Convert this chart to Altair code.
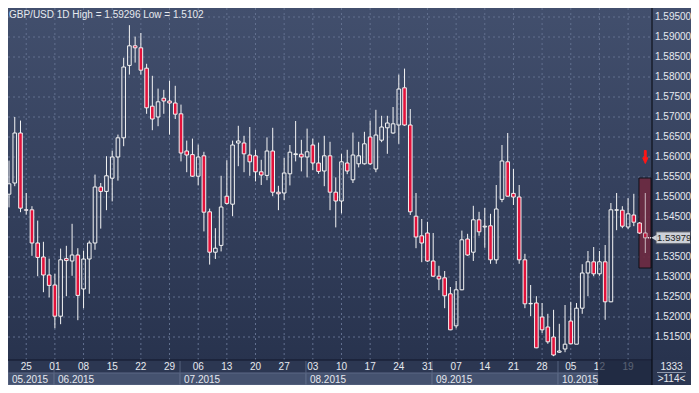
import altair as alt
import pandas as pd

# ---------------- data ----------------
opens = [1.5652, 1.5507, 1.5535, 1.5660, 1.5468, 1.5468, 1.5385, 1.5350, 1.5305, 1.5280,
         1.5202, 1.5346, 1.5340, 1.5355, 1.5270, 1.5345, 1.5385, 1.5525, 1.5514, 1.5547,
         1.5600, 1.5648, 1.5829, 1.5878, 1.5873, 1.5822, 1.5727, 1.5700, 1.5747, 1.5740,
         1.5735, 1.5708, 1.5615, 1.5606, 1.5552, 1.5603, 1.5463, 1.5362, 1.5379, 1.5502,
         1.5482, 1.5635, 1.5635, 1.5605, 1.5603, 1.5563, 1.5554, 1.5615, 1.5512, 1.5510,
         1.5558, 1.5606, 1.5607, 1.5600, 1.5630, 1.5585, 1.5565, 1.5603, 1.5512, 1.5490,
         1.5585, 1.5543, 1.5583, 1.5583, 1.5650, 1.5570, 1.5642, 1.5673, 1.5660, 1.5680,
         1.5773, 1.5680, 1.5452, 1.5403, 1.5410, 1.5340, 1.5302, 1.5298, 1.5258, 1.5178,
         1.5268, 1.5395, 1.5362, 1.5443, 1.5425, 1.5428, 1.5343, 1.5494, 1.5588, 1.5509,
         1.5500, 1.5343, 1.5233, 1.5235, 1.5200, 1.5175, 1.5150, 1.5112, 1.5120, 1.5190,
         1.5132, 1.5222, 1.5310, 1.5338, 1.5308, 1.5338, 1.5238, 1.5467, 1.5467, 1.5425,
         1.5455, 1.5435, 1.5410]
highs = [1.5656, 1.5591, 1.5700, 1.5691, 1.5510, 1.5477, 1.5441, 1.5388, 1.5346, 1.5308,
         1.5371, 1.5378, 1.5433, 1.5372, 1.5366, 1.5391, 1.5556, 1.5535, 1.5602, 1.5616,
         1.5656, 1.5848, 1.59296, 1.5901, 1.5910, 1.5833, 1.5803, 1.5771, 1.5768, 1.5791,
         1.5778, 1.5731, 1.5641, 1.5646, 1.5631, 1.5613, 1.5471, 1.5422, 1.5553, 1.5592,
         1.5641, 1.5678, 1.5653, 1.5675, 1.5618, 1.5593, 1.5649, 1.5673, 1.5528, 1.5598,
         1.5630, 1.5690, 1.5643, 1.5671, 1.5646, 1.5636, 1.5653, 1.5638, 1.5549, 1.5608,
         1.5618, 1.5661, 1.5638, 1.5663, 1.5691, 1.5718, 1.5703, 1.5703, 1.5725, 1.5806,
         1.5821, 1.5720, 1.5510, 1.5445, 1.5438, 1.5410, 1.5328, 1.5315, 1.5275, 1.5290,
         1.5416, 1.5408, 1.5478, 1.5463, 1.5473, 1.5458, 1.5530, 1.5630, 1.5660, 1.5570,
         1.5530, 1.5358, 1.5280, 1.5252, 1.5235, 1.5208, 1.5218, 1.5183, 1.5230, 1.5238,
         1.5235, 1.5332, 1.5365, 1.5375, 1.5365, 1.5380, 1.5485, 1.5510, 1.5477, 1.5497,
         1.5508, 1.5437, 1.5510]
lows = [1.5506, 1.5474, 1.5527, 1.5462, 1.5456, 1.5353, 1.5302, 1.5262, 1.5249, 1.5172,
        1.5182, 1.5252, 1.5303, 1.5192, 1.5222, 1.5258, 1.5368, 1.5421, 1.5467, 1.5489,
        1.5541, 1.5627, 1.5806, 1.5836, 1.5806, 1.5708, 1.5667, 1.5677, 1.5708, 1.5656,
        1.5695, 1.5589, 1.5562, 1.5550, 1.5529, 1.5414, 1.5331, 1.5345, 1.5364, 1.5481,
        1.5452, 1.5577, 1.5562, 1.5553, 1.5539, 1.5530, 1.5542, 1.5502, 1.5467, 1.5492,
        1.5529, 1.5589, 1.5564, 1.5549, 1.5567, 1.5558, 1.5527, 1.5467, 1.5424, 1.5459,
        1.5557, 1.5535, 1.5574, 1.5581, 1.5580, 1.5562, 1.5637, 1.5608, 1.5658, 1.5633,
        1.5678, 1.5455, 1.5372, 1.5337, 1.5338, 1.5300, 1.5267, 1.5222, 1.5167, 1.5172,
        1.5267, 1.5353, 1.5340, 1.5403, 1.5373, 1.5333, 1.5333, 1.5487, 1.5501, 1.5480,
        1.5333, 1.5222, 1.5202, 1.5122, 1.5160, 1.5133, 1.5102, 1.5110, 1.5112, 1.5132,
        1.5132, 1.5208, 1.5252, 1.5302, 1.5303, 1.5193, 1.5237, 1.5417, 1.5422, 1.5420,
        1.5427, 1.5408, 1.5360]
closes = [1.5510, 1.5533, 1.5660, 1.5472, 1.5467, 1.5385, 1.5349, 1.5305, 1.5279, 1.5202,
          1.5343, 1.5341, 1.5355, 1.5254, 1.5345, 1.5385, 1.5525, 1.5514, 1.5553, 1.5600,
          1.5648, 1.5825, 1.5878, 1.5873, 1.5817, 1.5723, 1.5695, 1.5738, 1.5740, 1.5735,
          1.5707, 1.5610, 1.5605, 1.5552, 1.5600, 1.5462, 1.5362, 1.5372, 1.5475, 1.5484,
          1.5630, 1.5640, 1.5608, 1.5588, 1.5563, 1.5555, 1.5615, 1.5512, 1.5508, 1.5560,
          1.5612, 1.5608, 1.5600, 1.5613, 1.5585, 1.5564, 1.5603, 1.5512, 1.5490, 1.5588,
          1.5565, 1.5605, 1.5603, 1.5633, 1.5583, 1.5655, 1.5675, 1.5685, 1.5683, 1.5770,
          1.5680, 1.5463, 1.5400, 1.5385, 1.5340, 1.5302, 1.5295, 1.5253, 1.5168, 1.5268,
          1.5393, 1.5355, 1.5443, 1.5413, 1.5427, 1.5343, 1.5470, 1.5590, 1.5502, 1.5500,
          1.5343, 1.5233, 1.5234, 1.5123, 1.5168, 1.5138, 1.5105, 1.5115, 1.5132, 1.5133,
          1.5222, 1.5310, 1.5338, 1.5308, 1.5338, 1.5238, 1.5468, 1.5468, 1.5427, 1.5458,
          1.5437, 1.5410, 1.53979]

monday_idx = [4, 9, 14, 19, 24, 29, 34, 39, 44, 49, 54, 59, 64, 69, 74, 79, 84, 89, 94, 99, 104, 109]
day_labels = ["25", "01", "08", "15", "22", "29", "06", "13", "20", "27", "03",
              "10", "17", "24", "31", "07", "14", "21", "28", "05", "12", "19"]
month_labels = ["05.2015", "06.2015", "07.2015", "08.2015", "09.2015", "10.2015"]
month_start = [0.82, 8.85, 30.83, 52.8, 74.8, 96.77]
month_end = [8.85, 30.83, 52.8, 74.8, 96.77, 103.75]
price_levels = [1.515, 1.520, 1.525, 1.530, 1.535, 1.540, 1.545, 1.550, 1.555,
                1.560, 1.565, 1.570, 1.575, 1.580, 1.585, 1.590, 1.595]
axis_levels = [v for v in price_levels if abs(v - 1.540) > 1e-9]
last_price = 1.53979
title_text = "GBP/USD 1D High = 1.59296 Low = 1.5102"
bar_count = "1333"
bar_visible = ">114<"
future_start = 103.75
highlight = {"i0": 110.9, "i1": 113.0, "p0": 1.53225, "p1": 1.55475}
signal = {"i": 112, "p": 1.5600}

# ---------------- layout ----------------
W, H = 644, 352
PR, PB = 39, 25
PX_PER_BAR = 5.732
FONT = "Liberation Sans, Arial, sans-serif"
TXT = "#e6e9ef"

x_lo = 0.82
xs = alt.Scale(domain=[x_lo, x_lo + W / PX_PER_BAR], nice=False, zero=False, padding=0)
ys = alt.Scale(domain=[1.50925, 1.59725], nice=False, zero=False, padding=0)

candles = pd.DataFrame({"i": list(range(len(opens))), "o": opens, "h": highs, "l": lows, "c": closes})
one = pd.DataFrame({"k": [0]})
grid_y = pd.DataFrame({"p": price_levels})
ylabs = pd.DataFrame({"p": axis_levels, "lab": [f"{v:.5f}" for v in axis_levels]})
days = pd.DataFrame({"i": monday_idx, "lab": day_labels})
months = pd.DataFrame({"s": month_start, "e": month_end, "lab": month_labels})

X = lambda f: alt.X(f, type="quantitative", scale=xs, axis=None)
Y = lambda f: alt.Y(f, type="quantitative", scale=ys, axis=None)

bg = alt.Chart(one).mark_rect(
    color=alt.Gradient(gradient="linear",
                       stops=[alt.GradientStop(color="#424f6d", offset=0),
                              alt.GradientStop(color="#28334e", offset=1)],
                       x1=0, x2=0, y1=0, y2=1)
).encode(x=alt.value(0), x2=alt.value(W + PR), y=alt.value(0), y2=alt.value(H))

strip = alt.Chart(one).mark_rect(color="#2c3752").encode(
    x=alt.value(0), x2=alt.value(W + PR), y=alt.value(H), y2=alt.value(H + PB))

hgrid = alt.Chart(grid_y).mark_rule(color="#62708f", strokeDash=[2, 3], strokeWidth=1).encode(
    y=Y("p"), x=alt.value(0), x2=alt.value(W))

ytext = alt.Chart(ylabs).mark_text(
    align="left", baseline="middle", font=FONT, fontSize=10, color=TXT
).encode(x=alt.value(W + 3), y=Y("p"), text="lab:N")

vgrid = alt.Chart(days).mark_rule(color="#62708f", strokeDash=[2, 3], strokeWidth=1).encode(
    x=X("i"), y=alt.value(0), y2=alt.value(H))

hl = alt.Chart(pd.DataFrame([highlight])).mark_rect(
    fill="#6e2a41", stroke="#0d0d12", strokeWidth=1, opacity=0.9
).encode(x=X("i0"), x2=alt.X2("i1"), y=Y("p0"), y2=alt.Y2("p1"))

base = alt.Chart(candles).transform_calculate(
    top="max(datum.o, datum.c)", bot="min(datum.o, datum.c)")

op = alt.condition("datum.i == %d" % (len(opens) - 1), alt.value(0.7), alt.value(1.0))

wick_up = base.mark_rule(color="#f4f4f4", strokeWidth=1, clip=True).encode(
    x=X("i"), y=Y("h"), y2=alt.Y2("top"), opacity=op)
wick_dn = base.mark_rule(color="#f4f4f4", strokeWidth=1, clip=True).encode(
    x=X("i"), y=Y("bot"), y2=alt.Y2("l"), opacity=op)
body = base.mark_bar(size=3.6, stroke="#f4f4f4", strokeWidth=1, orient="vertical", clip=True).encode(
    x=X("i"), y=Y("top"), y2=alt.Y2("bot"),
    fill=alt.condition("datum.c < datum.o", alt.value("#e3123b"), alt.value("transparent")),
    opacity=op)

arrow = alt.Chart(pd.DataFrame([signal])).mark_point(
    shape="arrow", filled=True, color="#ff1616", stroke="#ff1616", strokeWidth=1,
    size=170, angle=180, opacity=1
).encode(x=X("i"), y=Y("p"))

lp = pd.DataFrame({"p": [last_price], "i": [len(opens) - 1], "lab": [f"{last_price:.5f}"]})
lp_mark = alt.Chart(lp).transform_calculate(a="datum.i + 0.45", b="datum.i + 1.05").mark_rule(
    color="#ffffff", strokeWidth=1.5, strokeDash=[1, 1]
).encode(x=X("a:Q"), x2=alt.X2("b:Q"), y=Y("p"))

vline = alt.Chart(one).mark_rule(color="#05070c", strokeWidth=1).encode(
    x=alt.value(W), y=alt.value(0), y2=alt.value(H + PB))
hline = alt.Chart(one).mark_rule(color="#11172a", strokeWidth=1).encode(
    x=alt.value(0), x2=alt.value(W), y=alt.value(H))

mbox = alt.Chart(months).mark_rect(fill="#45526f", stroke="#5c6986", strokeWidth=1).encode(
    x=X("s"), x2=alt.X2("e"), y=alt.value(H + 13), y2=alt.value(H + PB))
msep = alt.Chart(months).mark_rule(color="#56637f", strokeWidth=1).encode(
    x=X("s"), y=alt.value(H + 1), y2=alt.value(H + PB))
mtext = alt.Chart(months).mark_text(
    align="left", baseline="middle", dx=4, font=FONT, fontSize=10, color=TXT
).encode(x=X("s"), y=alt.value(H + 19.5), text="lab:N")
dtext = alt.Chart(days).mark_text(
    align="center", baseline="middle", font=FONT, fontSize=10, color=TXT
).encode(x=X("i"), y=alt.value(H + 6.5), text="lab:N")
future = alt.Chart(pd.DataFrame({"s": [future_start]})).mark_rect(
    fill="#1d263d", opacity=0.7).encode(
    x=X("s"), x2=alt.value(W), y=alt.value(H + 1), y2=alt.value(H + PB))

corner = alt.Chart(one).mark_rect(color="#2c3752").encode(
    x=alt.value(W + 1), x2=alt.value(W + PR), y=alt.value(H + 1), y2=alt.value(H + PB))
corner_line = alt.Chart(one).mark_rule(color="#8f98ab", strokeWidth=1).encode(
    x=alt.value(W + 5), x2=alt.value(W + PR - 5), y=alt.value(H + 12.5))
corner_t1 = alt.Chart(pd.DataFrame({"t": [bar_count]})).mark_text(
    font=FONT, fontSize=10, color=TXT, baseline="middle").encode(
    x=alt.value(W + PR / 2), y=alt.value(H + 6.5), text="t:N")
corner_t2 = alt.Chart(pd.DataFrame({"t": [bar_visible]})).mark_text(
    font=FONT, fontSize=10, color=TXT, baseline="middle").encode(
    x=alt.value(W + PR / 2), y=alt.value(H + 19), text="t:N")

lp_box = alt.Chart(lp).transform_calculate(
    p0="datum.p - 0.0015", p1="datum.p + 0.0015").mark_rect(
    fill="#cdd1d8", stroke="#4a4f5a", strokeWidth=1).encode(
    x=alt.value(W + 4), x2=alt.value(W + PR - 0.5), y=Y("p0:Q"), y2=alt.Y2("p1:Q"))
lp_tip = alt.Chart(lp).mark_point(shape="triangle-left", filled=True, color="#cdd1d8",
                                  size=40, opacity=1).encode(x=alt.value(W + 2), y=Y("p"))
lp_text = alt.Chart(lp).mark_text(align="left", baseline="middle", font=FONT, fontSize=9.5,
                                  color="#1b1e24").encode(x=alt.value(W + 5), y=Y("p"), text="lab:N")

title = alt.Chart(pd.DataFrame({"t": [title_text]})).mark_text(
    align="left", baseline="top", font=FONT, fontSize=10, color=TXT).encode(
    x=alt.value(1), y=alt.value(1.5), text="t:N")

chart = alt.layer(
    bg, strip, hgrid, vgrid, hl, wick_up, wick_dn, body, arrow, lp_mark,
    mbox, msep, dtext, mtext, future, hline, vline, ytext,
    corner, corner_line, corner_t1, corner_t2, lp_box, lp_tip, lp_text, title
).properties(
    width=W, height=H,
    autosize=alt.AutoSizeParams(type="none"),
    padding={"left": 0, "top": 0, "right": PR, "bottom": PB},
    background="#2c3752"
).configure_view(stroke=None)

chart.save("out.html", embed_options={"renderer": "svg", "actions": False})
